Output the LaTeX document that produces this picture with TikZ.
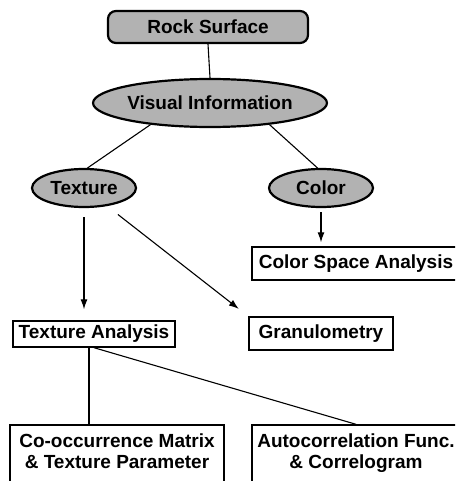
\documentclass[tikz,border=0pt]{standalone}
\usepackage{fontspec}
\setmainfont{Liberation Sans}
\usetikzlibrary{arrows.meta,shapes.geometric}
\begin{document}
\begin{tikzpicture}[x=1pt,y=-1pt,
  lbl/.style={font=\fontsize{19}{21}\selectfont\bfseries},
  oval/.style={ellipse, draw, line width=2.2pt, fill=gray!60, inner sep=0pt, lbl},
  rbox/.style={rectangle, draw, line width=2.2pt, fill=gray!60, rounded corners=8pt, inner sep=0pt, lbl},
  box/.style={rectangle, draw, line width=1.4pt, inner sep=0pt, lbl, align=center},
  conn/.style={line width=1.1pt},
  arr/.style={conn, -{Latex[length=10pt,width=7pt]}}]
\useasboundingbox (0,0) rectangle (455,481);
\clip (0,0) rectangle (455,481);
\node[rbox, minimum width=200pt, minimum height=32pt] (rock) at (208,27) {Rock Surface};
\node[oval, minimum width=200pt, minimum height=48pt] (vi) at (210,103) {Visual Information};
\node[oval, minimum width=104pt, minimum height=38pt] (tex) at (84,188) {Texture};
\node[oval, minimum width=104pt, minimum height=38pt] (col) at (321,188) {Color};
\node[box, minimum width=208pt, minimum height=33pt] (csa) at (356,263.5) {Color Space Analysis};
\node[box, minimum width=162pt, minimum height=26pt] (ta) at (94,334) {Texture Analysis};
\node[box, minimum width=144pt, minimum height=33pt] (gr) at (321,333.5) {Granulometry};
\node[box, minimum width=214pt, minimum height=57pt] (co) at (117,453.5) {\raisebox{-2pt}{\begin{tabular}{@{}c@{}}Co-occurrence Matrix\\\& Texture Parameter\end{tabular}}};
\node[box, minimum width=208pt, minimum height=57pt] (ac) at (356,453.5) {\raisebox{-2pt}{\begin{tabular}{@{}c@{}}Autocorrelation Func.\\\& Correlogram\end{tabular}}};
\draw[conn] (rock.south) -- (vi.north);
\draw[conn] (vi.200) -- (tex.80);
\draw[conn] (vi.340) -- (col.100);
\draw[arr, shorten <=4pt, shorten >=4pt] (col.south) -- (col.south |- csa.north);
\draw[arr, shorten <=9pt, shorten >=11pt] (tex.south) -- (tex.south |- ta.north);
\draw[arr, shorten <=43pt, shorten >=12pt] (tex.center) -- (gr.north west);
\draw[conn] ([xshift=-5pt]ta.south) -- ([xshift=-5pt]ta.south |- co.north);
\draw[conn] (ta.south) -- (ac.north);
\end{tikzpicture}
\end{document}
